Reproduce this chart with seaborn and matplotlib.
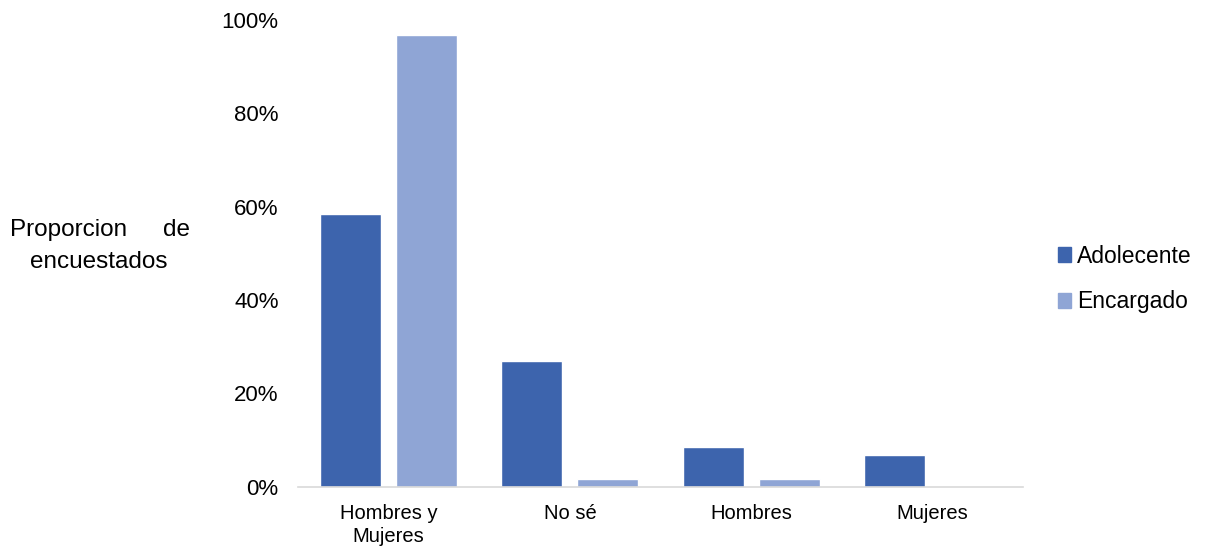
import pandas as pd
import matplotlib
matplotlib.use("Agg")
import matplotlib.pyplot as plt
import matplotlib.patches as mpatches
import seaborn as sns
from matplotlib.ticker import PercentFormatter

categorias = ["Hombres y\nMujeres", "No sé", "Hombres", "Mujeres"]
adolecente = [58.5, 26.9, 8.5, 6.8]
encargado = [96.8, 1.7, 1.7, 0.0]
series = ["Adolecente", "Encargado"]
colores = ["#3D64AD", "#8FA5D5"]

df = pd.DataFrame({
    "categoria": categorias * 2,
    "valor": adolecente + encargado,
    "serie": [series[0]] * 4 + [series[1]] * 4,
})

sns.set_style("white")
plt.rcParams["font.family"] = ["Liberation Sans", "DejaVu Sans"]
plt.rcParams["text.color"] = "#000000"

fig = plt.figure(figsize=(12.1, 5.52), dpi=100)
ax = fig.add_axes([298 / 1210, 0.118, 725 / 1210, 0.846])

sns.barplot(data=df, x="categoria", y="valor", hue="serie", palette=colores,
            width=0.84, gap=0.2, ax=ax, legend=False, saturation=1)

ax.set_ylim(0, 100)
ax.set_xlim(-0.5, 3.5)
ax.set_yticks(range(0, 101, 20))
ax.yaxis.set_major_formatter(PercentFormatter(decimals=0))
ax.tick_params(axis="y", length=0, labelsize=16, colors="#000000", pad=14)
ax.tick_params(axis="x", length=0, labelsize=14.5, colors="#000000", pad=12)
for lab in ax.get_xticklabels():
    lab.set_linespacing(1.3)
ax.set_xlabel("")
ax.set_ylabel("")
for s in ["left", "right", "top"]:
    ax.spines[s].set_visible(False)
ax.spines["bottom"].set_color("#D9D9D9")
ax.spines["bottom"].set_linewidth(1.2)

# etiqueta del eje y, justificada como en el original
fig.text(10 / 1210, 1 - 230 / 552, "Proporcion", fontsize=17.5, ha="left", va="center", color="black")
fig.text(190 / 1210, 1 - 230 / 552, "de", fontsize=17.5, ha="right", va="center", color="black")
fig.text(99 / 1210, 1 - 262 / 552, "encuestados", fontsize=17.5, ha="center", va="center", color="black")

handles = [mpatches.Patch(color=c, label=s) for s, c in zip(series, colores)]
leg = fig.legend(handles=handles, loc="center left", bbox_to_anchor=(1037 / 1210, 1 - 279 / 552),
                 frameon=False, fontsize=16.5, handlelength=0.6, handleheight=0.6,
                 handletextpad=0.25, labelspacing=1.0)
for t in leg.get_texts():
    t.set_color("black")

fig.savefig("out.png", dpi=100)
